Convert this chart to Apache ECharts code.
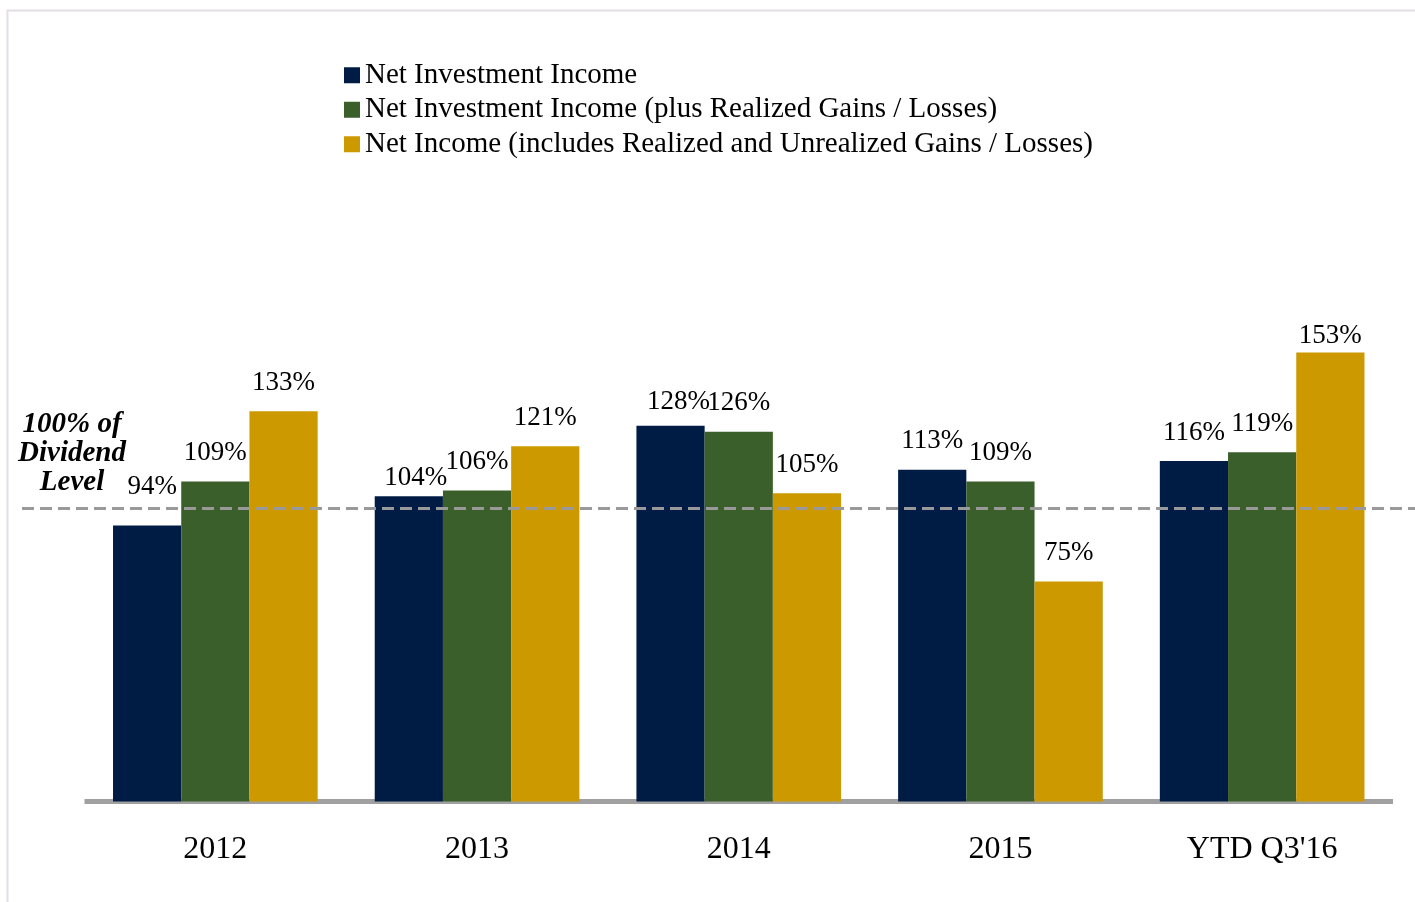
<!DOCTYPE html>
<html><head><meta charset="utf-8">
<script src="https://cdn.jsdelivr.net/npm/echarts@6/dist/echarts.min.js"></script>
<style>html,body{margin:0;padding:0;background:#fff}#c{width:1415px;height:902px}</style>
</head><body><div id="c"></div>
<script>
const categories = ['2012', '2013', '2014', '2015', "YTD Q3'16"];
const seriesNames = [
  'Net Investment Income',
  'Net Investment Income (plus Realized Gains / Losses)',
  'Net Income (includes Realized and Unrealized Gains / Losses)'
];
const nii = [94, 104, 128, 113, 116];
const niiPlus = [109, 106, 126, 109, 119];
const netIncome = [133, 121, 105, 75, 153];
const dividendLevel = 100;

const colors = ['#001C44', '#3A5F2A', '#CC9900'];
const FONT = 'Liberation Serif';
// label nudges [series][category] -> [dx, dy]
const labelNudge = {
  '0-0': [5, -10], '0-1': [7, 10], '0-2': [8, 5], '2-4': [0, 12]
};

function buildData(vals, si) {
  return vals.map((v, ci) => {
    const n = labelNudge[si + '-' + ci];
    return n ? { value: v, label: { offset: n } } : v;
  });
}

const chart = echarts.init(document.getElementById('c'));
const barSeries = [nii, niiPlus, netIncome].map((vals, si) => ({
  name: seriesNames[si],
  type: 'bar',
  xAxisIndex: 0, yAxisIndex: 0,
  barGap: '0%',
  barCategoryGap: '21.8%',
  itemStyle: { color: colors[si] },
  label: {
    show: true, position: 'top', distance: 15,
    formatter: p => p.value + '%',
    fontFamily: FONT, fontSize: 27, color: '#000'
  },
  data: buildData(vals, si)
}));

chart.setOption({
  animation: false,
  backgroundColor: '#fff',
  color: colors,
  legend: {
    orient: 'vertical', left: 339, top: 53,
    itemWidth: 16, itemHeight: 16, itemGap: 0,
    icon: 'rect',
    textStyle: { fontFamily: FONT, fontSize: 29, color: '#000', lineHeight: 34.5 },
    data: seriesNames
  },
  grid: [
    { left: 84.5, right: 22, top: 214.5, bottom: 100.5 },
    { left: 22, right: 0, top: 214.5, bottom: 100.5 }
  ],
  xAxis: [
    {
      type: 'category', gridIndex: 0, data: categories,
      axisLine: { show: true, lineStyle: { color: '#A0A0A0', width: 5, cap: 'butt' } },
      axisTick: { show: false },
      axisLabel: { fontFamily: FONT, fontSize: 32, color: '#000', margin: 32 }
    },
    { type: 'value', gridIndex: 1, min: 0, max: 1, show: false }
  ],
  yAxis: [
    { type: 'value', gridIndex: 0, min: 0, max: 200, show: false, splitLine: { show: false } },
    { type: 'value', gridIndex: 1, min: 0, max: 200, show: false, splitLine: { show: false } }
  ],
  graphic: [
    { type: 'rect', shape: { x: 7.5, y: 10.5, width: 1500, height: 1000 },
      style: { fill: 'none', stroke: '#E2DEE6', lineWidth: 2 }, silent: true, z: -1 },
    { type: 'text', x: 72, y: 410,
      style: { text: '100% of\nDividend\nLevel', fontFamily: FONT, fontSize: 29,
        fontWeight: 'bold', fontStyle: 'italic', fill: '#000', align: 'center',
        textAlign: 'center', lineHeight: 29 } }
  ],
  series: barSeries.concat([{
    type: 'line', xAxisIndex: 1, yAxisIndex: 1, data: [], z: 10,
    markLine: {
      silent: true, symbol: 'none', label: { show: false },
      lineStyle: { type: [12, 6], color: '#999999', width: 3 },
      data: [{ yAxis: dividendLevel }]
    }
  }])
});
</script></body></html>
